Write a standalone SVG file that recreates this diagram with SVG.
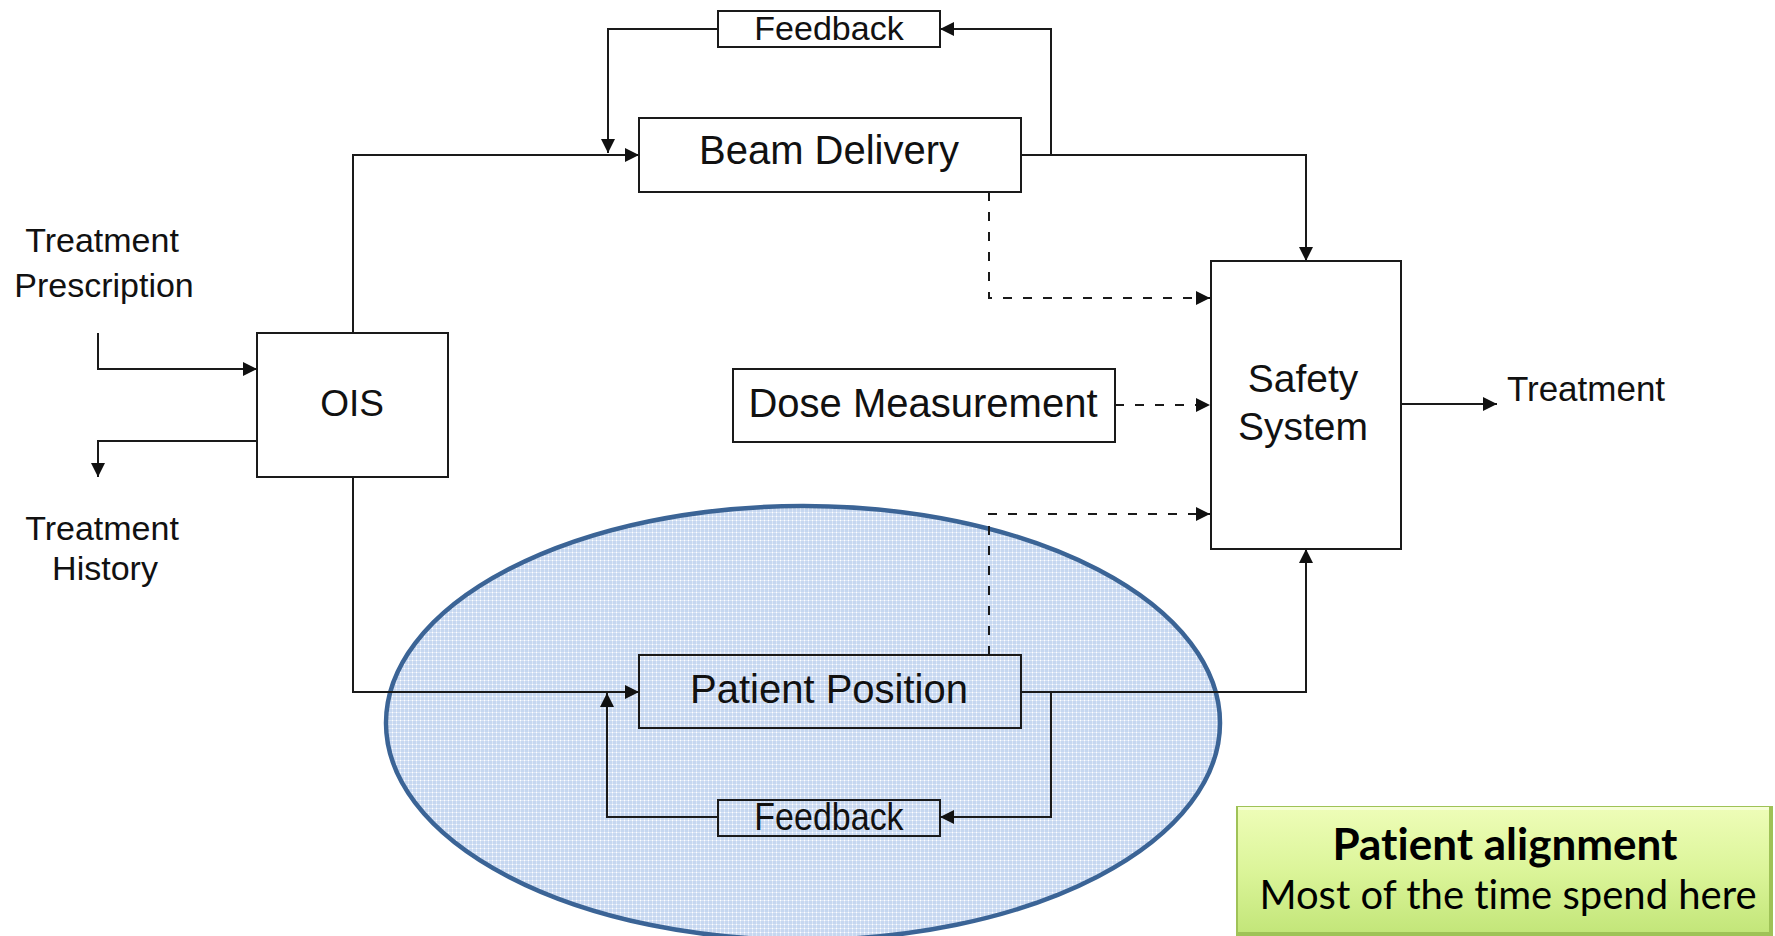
<svg xmlns="http://www.w3.org/2000/svg" width="1775" height="936" viewBox="0 0 1775 936">
<style>
.box{fill:none;stroke:#1a1a1a;stroke-width:2}
.ln{fill:none;stroke:#1a1a1a;stroke-width:2;marker-end:url(#arr)}
.dash{stroke-dasharray:9 11}
.t{font-family:"Liberation Sans",Arial,sans-serif;fill:#111;text-anchor:middle}
.g{font-family:Lato,"Open Sans",sans-serif;fill:#000;text-anchor:middle;font-variant-ligatures:none;font-feature-settings:"liga" 0,"dlig" 0}
</style>
<defs>
<marker id="arr" markerUnits="userSpaceOnUse" markerWidth="14" markerHeight="14" refX="14" refY="7" orient="auto" viewBox="0 0 14 14">
<path d="M0,0 L14,7 L0,14 z" fill="#111"/>
</marker>
<pattern id="dots" width="4" height="4" patternUnits="userSpaceOnUse">
<rect width="4" height="4" fill="#c6d7f0"/>
<rect width="4" height="1" fill="#dce6f6"/>
<rect width="1" height="4" fill="#dce6f6"/>
<rect width="1" height="1" fill="#ffffff"/>
</pattern>
<linearGradient id="grn" x1="0" y1="0" x2="0" y2="1">
<stop offset="0" stop-color="#eefdb8"/>
<stop offset="0.5" stop-color="#dcf59a"/>
<stop offset="1" stop-color="#c3e67a"/>
</linearGradient>
</defs>

<g id="highlight">
<ellipse cx="803" cy="723" rx="417" ry="217" fill="url(#dots)" stroke="#3b6496" stroke-width="4.5"/>
</g>

<g id="connectors">
<path class="ln" d="M353,333 V155 H639"/>
<path class="ln" d="M98,333 V369 H257"/>
<path class="ln" d="M257,441 H98 V477"/>
<path class="ln" d="M353,477 V692 H639"/>
<path class="ln" d="M1021,155 H1306 V261"/>
<path class="ln" d="M1051,155 V29 H940"/>
<path class="ln" d="M718,29 H608 V153"/>
<path class="ln dash" d="M989,192 V298 H1210"/>
<path class="ln dash" d="M1115,405 H1210"/>
<path class="ln dash" d="M989,655 V514 H1210"/>
<path class="ln" d="M1021,692 H1306 V549"/>
<path class="ln" d="M1051,692 V817 H940"/>
<path class="ln" d="M718,817 H607 V693"/>
<path class="ln" d="M1401,404 H1497"/>
</g>

<g id="feedback-top">
<rect class="box" x="718" y="11" width="222" height="36" fill="#fff"/>
<text class="t" x="829" y="40" font-size="34">Feedback</text>
</g>

<g id="beam-delivery">
<rect class="box" x="639" y="118" width="382" height="74"/>
<text class="t" x="829" y="164" font-size="40">Beam Delivery</text>
</g>

<g id="treatment-prescription">
<text class="t" x="102" y="252" font-size="34">Treatment</text>
<text class="t" x="104" y="297" font-size="34">Prescription</text>
</g>

<g id="ois">
<rect class="box" x="257" y="333" width="191" height="144"/>
<text class="t" x="352" y="416" font-size="37">OIS</text>
</g>

<g id="treatment-history">
<text class="t" x="102" y="540" font-size="34">Treatment</text>
<text class="t" x="105" y="580" font-size="34">History</text>
</g>

<g id="dose-measurement">
<rect class="box" x="733" y="369" width="382" height="73"/>
<text class="t" x="923" y="417" font-size="40">Dose Measurement</text>
</g>

<g id="safety-system">
<rect class="box" x="1211" y="261" width="190" height="288"/>
<text class="t" x="1303" y="392" font-size="39">Safety</text>
<text class="t" x="1303" y="440" font-size="39">System</text>
</g>

<g id="treatment">
<text class="t" x="1586" y="401" font-size="35">Treatment</text>
</g>

<g id="patient-position">
<rect class="box" x="639" y="655" width="382" height="73"/>
<text class="t" x="829" y="703" font-size="40">Patient Position</text>
</g>

<g id="feedback-bottom">
<rect class="box" x="718" y="800" width="222" height="36"/>
<text class="t" x="829" y="830" font-size="34" transform="translate(0,830) scale(1,1.15) translate(0,-830)">Feedback</text>
</g>

<g id="note">
<rect x="1236" y="806" width="537" height="130" fill="#9fc257"/>
<rect x="1238" y="807" width="531" height="125" fill="url(#grn)"/>
<rect x="1238" y="807" width="531" height="3" fill="#f6ffd6"/>
<text class="g" x="1505" y="860" font-size="44" font-weight="bold">Patient alignment</text>
<text class="g" x="1508" y="909" font-size="40">Most of the time spend here</text>
</g>
</svg>
